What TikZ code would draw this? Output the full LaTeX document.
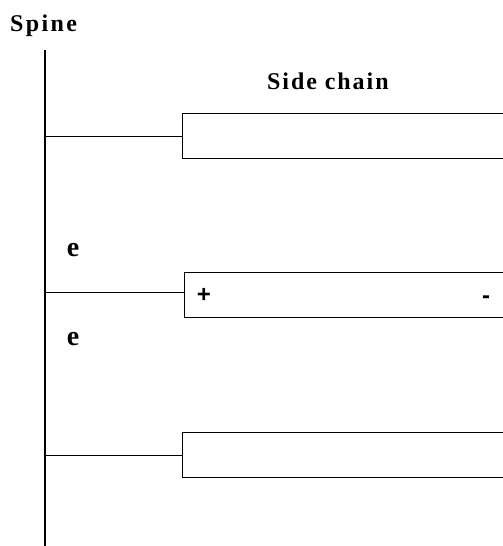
\documentclass[tikz,border=0pt]{standalone}
\usepackage{fontspec}
\setmainfont{Liberation Serif}
\newfontfamily\spacedfont[LetterSpace=10]{Liberation Serif}
\newfontfamily\chainfont[LetterSpace=8]{Liberation Serif}
\newfontfamily\signfont{Liberation Sans}
\begin{document}
\begin{tikzpicture}[x=1pt,y=-1pt,
  spineline/.style={line width=1.6pt},
  chainbox/.style={draw,line width=1pt,rectangle,minimum width=340pt,minimum height=45pt,anchor=west,inner sep=0pt},
  link/.style={line width=1pt},
  title/.style={font=\spacedfont\bfseries\fontsize{24}{26}\selectfont,inner sep=0pt},
  chaintitle/.style={font=\chainfont\bfseries\fontsize{24}{26}\selectfont,inner sep=0pt},
  elabel/.style={font=\bfseries\fontsize{28}{30}\selectfont,inner sep=0pt},
  sign/.style={font=\signfont\bfseries\fontsize{24}{26}\selectfont,inner sep=0pt,anchor=base}]
\useasboundingbox (0,0) rectangle (503,546);
\clip (0,0) rectangle (503,546);
\coordinate (stop) at (45,50);
\coordinate (sbot) at (45,548);
\draw[spineline] (stop) -- (sbot);
\node[title,anchor=base west] (spinelbl) at (10,31) {Spine};
\node[chaintitle,anchor=base west] (sidelbl) at (267,89) {Side chain};
\node[chainbox] (b1) at (182,135.5) {};
\node[chainbox] (b2) at (184,294.5) {};
\node[chainbox] (b3) at (182,455) {};
\coordinate (j1) at (45,136);
\coordinate (j2) at (45,292);
\coordinate (j3) at (45,455);
\draw[link] (j1) -- (b1.west |- j1);
\draw[link] (j2) -- (b2.west |- j2);
\draw[link] (j3) -- (b3.west |- j3);
\node[elabel] (e1) at (73,250) {e};
\node[elabel] (e2) at (73,339) {e};
\node[sign] (plus) at (204,302) {+};
\node[sign] (minus) at (486,303) {-};
\end{tikzpicture}
\end{document}
